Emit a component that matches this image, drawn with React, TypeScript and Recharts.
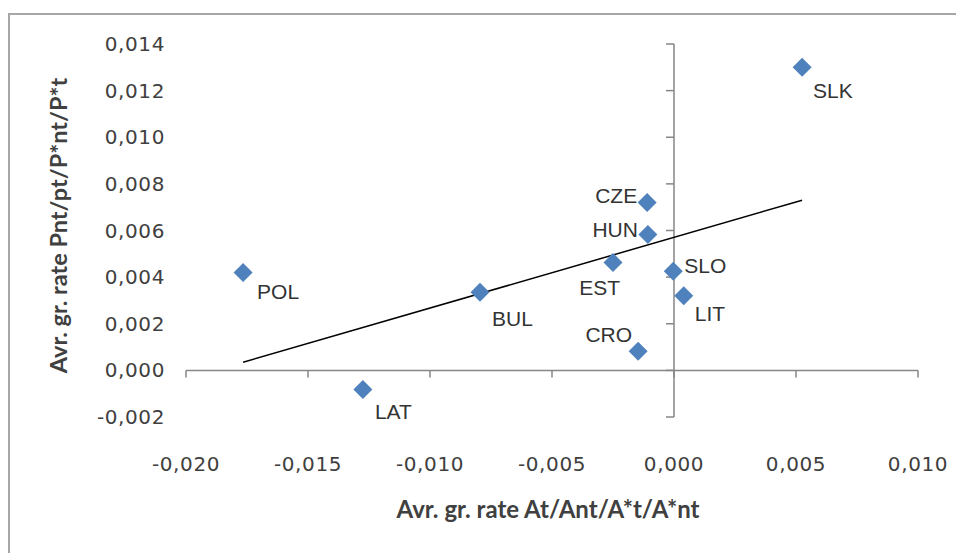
import React from 'react';
import { ScatterChart, Scatter, XAxis, YAxis, ReferenceLine } from 'recharts';

// ---- data ----
const COUNTRIES = ['SLK', 'POL', 'BUL', 'LAT', 'CZE', 'HUN', 'EST', 'SLO', 'LIT', 'CRO'];
const X_VALUES = [0.00525, -0.01766, -0.00795, -0.01275, -0.0011, -0.00107, -0.0025, -0.00003, 0.0004, -0.00147];
const Y_VALUES = [0.013, 0.0042, 0.00335, -0.00082, 0.0072, 0.00583, 0.00463, 0.00425, 0.0032, 0.00082];
const X_TICKS = [-0.02, -0.015, -0.01, -0.005, 0, 0.005, 0.01];
const Y_TICKS = [-0.002, 0, 0.002, 0.004, 0.006, 0.008, 0.01, 0.012, 0.014];
const TREND_X = [-0.01766, 0.00525];
const TREND_Y = [0.00035, 0.0073];
const X_TITLE = 'Avr. gr. rate At/Ant/A*t/A*nt';
const Y_TITLE = 'Avr. gr. rate Pnt/pt/P*nt/P*t';

// ---- label layout (styling, not data) ----
const LABEL_LAYOUT: Record<string, { dx: number; dy: number; anchor: 'start' | 'end' }> = {
  SLK: { dx: 11, dy: 23, anchor: 'start' },
  POL: { dx: 14, dy: 19, anchor: 'start' },
  BUL: { dx: 12, dy: 26, anchor: 'start' },
  LAT: { dx: 12, dy: 22, anchor: 'start' },
  CZE: { dx: -10, dy: -7, anchor: 'end' },
  HUN: { dx: -10, dy: -5, anchor: 'end' },
  EST: { dx: 7, dy: 25, anchor: 'end' },
  SLO: { dx: 11, dy: -6, anchor: 'start' },
  LIT: { dx: 11, dy: 18, anchor: 'start' },
  CRO: { dx: -6, dy: -17, anchor: 'end' },
};

const points = COUNTRIES.map((name, i) => ({ name, x: X_VALUES[i], y: Y_VALUES[i] }));

const X_DOMAIN: [number, number] = [X_TICKS[0], X_TICKS[X_TICKS.length - 1]];
const Y_DOMAIN: [number, number] = [Y_TICKS[0], Y_TICKS[Y_TICKS.length - 1]];

const fmt = (v: number) => v.toFixed(3).replace('.', ',');

const AXIS_COLOR = '#868686';
const TEXT_COLOR = '#404040';
const TICK_FONT = '"DejaVu Sans", sans-serif';
const TITLE_FONT = 'Lato, "Liberation Sans", sans-serif';

const XTick = (props: any) => {
  const { x, y, payload } = props;
  return (
    <text x={x} y={y + 47} textAnchor="middle" dominantBaseline="central" fontFamily={TICK_FONT} fontSize={20} letterSpacing={0.6} fill={TEXT_COLOR}>
      {fmt(payload.value)}
    </text>
  );
};

const YTick = (props: any) => {
  const { x, y, payload } = props;
  return (
    <text x={x - 21} y={y} textAnchor="end" dominantBaseline="central" fontFamily={TICK_FONT} fontSize={20} letterSpacing={0.6} fill={TEXT_COLOR}>
      {fmt(payload.value)}
    </text>
  );
};

const HorizontalAxisLine = (props: any) => {
  const { x1, x2, y1 } = props;
  const span = X_DOMAIN[1] - X_DOMAIN[0];
  return (
    <g>
      <line x1={x1} x2={x2} y1={y1} y2={y1} stroke={AXIS_COLOR} strokeWidth={1.5} />
      {X_TICKS.map((v) => {
        const px = x1 + ((v - X_DOMAIN[0]) / span) * (x2 - x1);
        return <line key={v} x1={px} x2={px} y1={y1} y2={y1 + 7} stroke={AXIS_COLOR} strokeWidth={1.5} />;
      })}
    </g>
  );
};

const VerticalAxisLine = (props: any) => {
  const { x1, y1, y2 } = props;
  const top = Math.min(y1, y2);
  const bottom = Math.max(y1, y2);
  const span = Y_DOMAIN[1] - Y_DOMAIN[0];
  return (
    <g>
      <line x1={x1} x2={x1} y1={top} y2={bottom} stroke={AXIS_COLOR} strokeWidth={1.5} />
      {Y_TICKS.map((v) => {
        const py = bottom - ((v - Y_DOMAIN[0]) / span) * (bottom - top);
        return <line key={v} x1={x1 - 8} x2={x1} y1={py} y2={py} stroke={AXIS_COLOR} strokeWidth={1.5} />;
      })}
    </g>
  );
};

const DiamondWithLabel = (props: any) => {
  const { cx, cy, payload } = props;
  const r = 9.5;
  const lay = LABEL_LAYOUT[payload.name] || { dx: 10, dy: 0, anchor: 'start' };
  return (
    <g>
      <polygon points={`${cx},${cy - r} ${cx + r},${cy} ${cx},${cy + r} ${cx - r},${cy}`} fill="#4F81BD" />
      <text x={cx + lay.dx} y={cy + lay.dy} textAnchor={lay.anchor} dominantBaseline="central" fontFamily='"Liberation Sans", Arial, sans-serif' fontSize={21} fill="#333333">
        {payload.name}
      </text>
    </g>
  );
};

const XTitle = (props: any) => {
  const { viewBox } = props;
  return (
    <text x={viewBox.x + viewBox.width / 2 - 4} y={viewBox.y + 91} textAnchor="middle" dominantBaseline="central" fontFamily={TITLE_FONT} fontWeight="bold" fontSize={24} fill={TEXT_COLOR}>
      {X_TITLE}
    </text>
  );
};

const YTitle = (props: any) => {
  const { viewBox } = props;
  const cx = viewBox.x + 50;
  const cy = viewBox.y + viewBox.height / 2 - 5;
  return (
    <text x={cx} y={cy} transform={`rotate(-90, ${cx}, ${cy})`} textAnchor="middle" dominantBaseline="central" fontFamily={TITLE_FONT} fontWeight="bold" fontSize={23.5} fill={TEXT_COLOR}>
      {Y_TITLE}
    </text>
  );
};

export default function App() {
  return (
    <div style={{ position: 'relative', width: 956, height: 545, background: '#ffffff', overflow: 'hidden' }}>
      <div style={{ position: 'absolute', left: 0, top: 5, right: -10, bottom: -10, borderLeft: '2px solid #a6a6a6', borderTop: '2px solid #a6a6a6' }} />
      <div style={{ position: 'absolute', left: 0, top: 0 }}>
        <ScatterChart width={956} height={545} margin={{ top: 36, right: 46, bottom: 0, left: 0 }}>
          <XAxis
            type="number"
            dataKey="x"
            domain={X_DOMAIN}
            ticks={X_TICKS}
            axisLine={false}
            tickLine={false}
            tickSize={0}
            tickMargin={0}
            height={136}
            tick={<XTick />}
            interval={0}
            label={<XTitle />}
          />
          <YAxis
            type="number"
            dataKey="y"
            domain={Y_DOMAIN}
            ticks={Y_TICKS}
            axisLine={false}
            tickLine={false}
            tickSize={0}
            tickMargin={0}
            width={178}
            tick={<YTick />}
            interval={0}
            label={<YTitle />}
          />
          <ReferenceLine y={0} shape={<HorizontalAxisLine />} />
          <ReferenceLine x={0} shape={<VerticalAxisLine />} />
          <ReferenceLine
            segment={[
              { x: TREND_X[0], y: TREND_Y[0] },
              { x: TREND_X[1], y: TREND_Y[1] },
            ]}
            stroke="#000000"
            strokeWidth={1.5}
          />
          <Scatter data={points} shape={<DiamondWithLabel />} isAnimationActive={false} />
        </ScatterChart>
      </div>
    </div>
  );
}
